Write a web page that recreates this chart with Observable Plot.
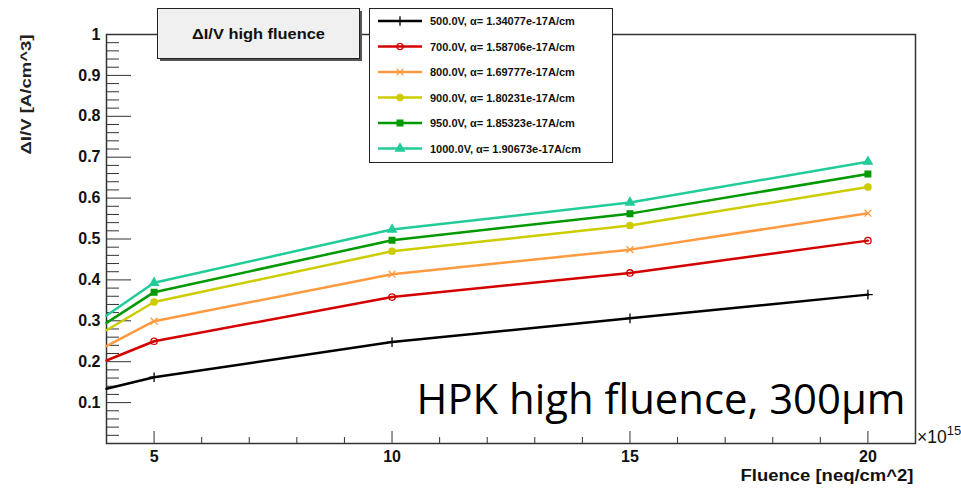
<!DOCTYPE html>
<html><head><meta charset="utf-8">
<script src="https://cdn.jsdelivr.net/npm/d3@7"></script>
<script src="https://cdn.jsdelivr.net/npm/@observablehq/plot@0.6"></script>
<style>body{margin:0;background:#fff} #chart{width:961px;height:491px}</style>
</head><body><div id="chart"></div>
<script>
// ---- data ----
const fluence = [4, 5, 10, 15, 20];           // x 10^15 neq/cm^2
const voltages = ["500.0V", "700.0V", "800.0V", "900.0V", "950.0V", "1000.0V"];
const alphas = ["1.34077e-17", "1.58706e-17", "1.69777e-17", "1.80231e-17", "1.85323e-17", "1.90673e-17"];
const v500  = [0.134, 0.162, 0.248, 0.306, 0.364];
const v700  = [0.203, 0.250, 0.358, 0.417, 0.496];
const v800  = [0.238, 0.299, 0.414, 0.474, 0.563];
const v900  = [0.277, 0.346, 0.470, 0.533, 0.627];
const v950  = [0.295, 0.370, 0.497, 0.562, 0.659];
const v1000 = [0.313, 0.393, 0.523, 0.589, 0.689];
const seriesValues = [v500, v700, v800, v900, v950, v1000];
const colors = ["#000000", "#d40000", "#ff9a40", "#cccc00", "#009900", "#22cc99"];
const symbols = ["plus", "circle", "times", "circle", "square", "triangle"];
const filled = [false, false, false, true, true, true];
const yMajor = [0.1, 0.2, 0.3, 0.4, 0.5, 0.6, 0.7, 0.8, 0.9, 1.0];
const yMinor = [0.02,0.04,0.06,0.08,0.12,0.14,0.16,0.18,0.22,0.24,0.26,0.28,0.32,0.34,0.36,0.38,0.42,0.44,0.46,0.48,0.52,0.54,0.56,0.58,0.62,0.64,0.66,0.68,0.72,0.74,0.76,0.78,0.82,0.84,0.86,0.88,0.92,0.94,0.96,0.98];
const xMajor = [5, 10, 15, 20];
const xMinor = [6, 7, 8, 9, 11, 12, 13, 14, 16, 17, 18, 19];
const titleText = "\u0394I/V high fluence";
const yLabel = "\u0394I/V [A/cm^3]";
const xLabel = "Fluence [neq/cm^2]";
const annotation = "HPK high fluence, 300\u03bcm";

// ---- table ----
const rows = [];
seriesValues.forEach((vals, s) => vals.forEach((v, i) => rows.push({s, x: fluence[i], y: v})));
const markerRows = rows.filter(d => d.x >= 5);

const W = 961, H = 491, ML = 106, MR = 46, MT = 34, MB = 48;
const PW = W - ML - MR, PH = H - MT - MB;
const axisColor = "#333";
const sans = "'Liberation Sans', Arial, sans-serif";

const plot = Plot.plot({
  width: W, height: H,
  marginLeft: ML, marginRight: MR, marginTop: MT, marginBottom: MB,
  style: {fontFamily: sans, color: "#111", background: "#fff"},
  x: {domain: [4, 21]},
  y: {domain: [0, 1]},
  marks: [
    Plot.tickY(yMajor, {y: d => d, insetRight: PW - 25, stroke: axisColor}),
    Plot.tickY(yMinor, {y: d => d, insetRight: PW - 13, stroke: axisColor}),
    Plot.tickX(xMajor, {x: d => d, insetTop: PH - 12, stroke: axisColor}),
    Plot.tickX(xMinor, {x: d => d, insetTop: PH - 6, stroke: axisColor}),
    Plot.axisY(yMajor, {tickSize: 0, tickPadding: 6, fontSize: 16, fontWeight: "bold", label: null,
      tickFormat: d => d === 1 ? "1" : d.toFixed(1)}),
    Plot.axisX(xMajor, {tickSize: 0, tickPadding: 7, fontSize: 16, fontWeight: "bold", label: null}),
    Plot.frame({stroke: axisColor, strokeWidth: 1.5}),
    Plot.line(rows, {x: "x", y: "y", z: "s", stroke: d => colors[d.s], strokeWidth: 2.5}),
    Plot.dot(markerRows, {x: "x", y: "y", symbol: d => symbols[d.s], r: 3.2,
      stroke: d => colors[d.s], fill: d => filled[d.s] ? colors[d.s] : "none", strokeWidth: 1.3}),
    Plot.text([yLabel], {frameAnchor: "top-left", rotate: -90, textAnchor: "end", lineAnchor: "middle", dx: -80, dy: 0,
      fontSize: 15, fontWeight: "bold", fill: "#222"}),
    Plot.text([xLabel], {frameAnchor: "bottom-right", textAnchor: "end", lineAnchor: "middle", dx: -2, dy: 32,
      fontSize: 16, fontWeight: "bold", fill: "#111"}),
    Plot.text([annotation], {frameAnchor: "bottom-right", textAnchor: "end", lineAnchor: "bottom",
      dx: -10, dy: -30, fontSize: 40, fontFamily: "'Open Sans', sans-serif", fill: "#000"})
  ]
});
document.getElementById("chart").appendChild(plot);

// ---- decorations (title box, legend, exponent) ----
const svg = d3.select(plot);
function findText(str) {
  return svg.selectAll("text").filter(function(){ return this.textContent === str; });
}
function fitLength(sel, target) {
  if (sel.empty()) return;
  const len = sel.node().getComputedTextLength();
  if (len > 0) sel.attr("textLength", target).attr("lengthAdjust", "spacingAndGlyphs");
}
const ann = findText(annotation);
if (!ann.empty()) {
  const len = ann.node().getComputedTextLength();
  if (len > 0) ann.attr("font-size", 40 * 489 / len);
}
fitLength(findText(xLabel), 173);
fitLength(findText(yLabel), 120);

// exponent label
const ex = svg.append("text").attr("x", 917).attr("y", 443).attr("text-anchor", "start")
  .attr("font-family", sans).attr("font-size", 17.5).attr("fill", "#111");
ex.append("tspan").text("\u00d710");
ex.append("tspan").attr("dy", -8).attr("font-size", 13).text("15");

// title box
const tb = svg.append("g");
tb.append("rect").attr("x", 160).attr("y", 11).attr("width", 202).attr("height", 50).attr("fill", "#555");
tb.append("rect").attr("x", 157.5).attr("y", 8.5).attr("width", 202).attr("height", 50)
  .attr("fill", "#f0f0f0").attr("stroke", "#222").attr("stroke-width", 1);
const tt = tb.append("text").attr("x", 258.5).attr("y", 33.5).attr("text-anchor", "middle").attr("dominant-baseline", "central")
  .attr("font-family", sans).attr("font-weight", "bold").attr("font-size", 15)
  .attr("fill", "#111").text(titleText);
fitLength(tt, 133);

// legend
const lg = svg.append("g");
lg.append("rect").attr("x", 369.5).attr("y", 8.5).attr("width", 243).attr("height", 154)
  .attr("fill", "#fff").attr("stroke", "#222").attr("stroke-width", 1);
const symMap = {plus: d3.symbolPlus, circle: d3.symbolCircle, times: d3.symbolTimes, square: d3.symbolSquare, triangle: d3.symbolTriangle};
const legendTexts = [];
voltages.forEach((v, i) => {
  const cy = 21 + i * 25.5;
  lg.append("line").attr("x1", 378).attr("x2", 422).attr("y1", cy).attr("y2", cy)
    .attr("stroke", colors[i]).attr("stroke-width", 2.5);
  lg.append("path").attr("transform", `translate(400,${cy})`)
    .attr("d", d3.symbol(symMap[symbols[i]], 32)())
    .attr("fill", filled[i] ? colors[i] : "none").attr("stroke", colors[i]).attr("stroke-width", 1.3);
  legendTexts.push(lg.append("text").attr("x", 430).attr("y", cy).attr("text-anchor", "start").attr("dominant-baseline", "central")
    .attr("font-family", sans).attr("font-weight", "bold").attr("font-size", 10)
    .attr("fill", "#111").text(`${v}, \u03b1= ${alphas[i]}A/cm`));
});
const l0 = legendTexts[0].node().getComputedTextLength();
if (l0 > 0) legendTexts.forEach(t => t.attr("font-size", 10 * 145 / l0));
</script></body></html>
